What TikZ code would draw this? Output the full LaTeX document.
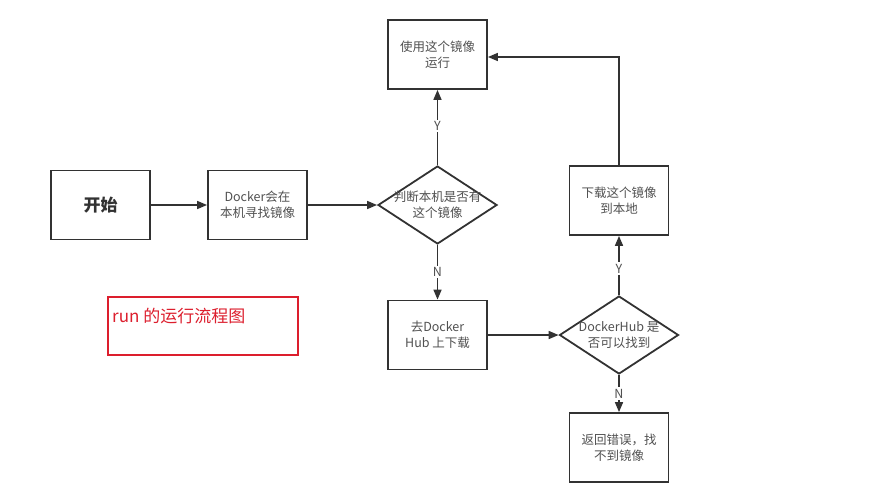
\documentclass[tikz,border=0pt]{standalone}
\usepackage{fontspec}
\setmainfont{Noto Sans CJK SC}
\usetikzlibrary{shapes.geometric,arrows.meta}
\definecolor{ln}{RGB}{50,50,50}
\definecolor{txt}{RGB}{80,80,80}
\definecolor{redc}{RGB}{220,30,45}
\tikzset{
  box/.style={draw=ln,line width=1.8pt,minimum width=99pt,minimum height=69pt,inner sep=0pt,align=center,font=\fontsize{12.5}{16}\selectfont,text=txt},
  dia/.style={draw=ln,line width=1.8pt,diamond,minimum width=119pt,minimum height=78pt,inner sep=0pt},
  diatext/.style={align=center,font=\fontsize{12.5}{16}\selectfont,text=txt,inner sep=0pt},
  conn/.style={draw=ln,line width=1.6pt,-{Triangle[length=10pt,width=8pt]}},
  lab/.style={fill=white,inner sep=1.5pt,font=\fontsize{12.5}{13}\selectfont,text=txt}
}
\begin{document}
\begin{tikzpicture}[x=1pt,y=-1pt]
\useasboundingbox (0,0) rectangle (890,501);
\node[box,font=\fontsize{17}{19}\bfseries\selectfont,text=ln] (start) at (100.5,205) {开始};
\node[box] (find) at (257.5,205) {Docker会在\\本机寻找镜像};
\node[dia] (d1) at (437.5,205) {};
\node[diatext] (d1t) at (437.5,205) {判断本机是否有\\这个镜像};
\node[box] (run) at (437.5,54.5) {使用这个镜像\\运行};
\node[box] (hub) at (437.5,335) {去Docker\\Hub 上下载};
\node[dia] (d2) at (619,335) {};
\node[diatext] (d2t) at (619,335) {DockerHub 是\\否可以找到};
\node[box] (dl) at (619,200.5) {下载这个镜像\\到本地};
\node[box] (err) at (619,447.5) {返回错误，找\\不到镜像};
\node[draw=redc,line width=1.3pt,minimum width=190pt,minimum height=58pt,inner sep=0pt] (note) at (203,326) {};
\node[anchor=west,text=redc,font=\fontsize{17}{19}\selectfont,inner sep=0pt] (notet) at (112,316) {run 的运行流程图};
\draw[conn] (start) -- (find);
\draw[conn] (find) -- (d1);
\draw[conn] (d1) -- node[lab,pos=0.52] {Y} (run);
\draw[conn] (d1) -- node[lab,pos=0.5] {N} (hub);
\draw[conn] (hub) -- (d2);
\draw[conn] (d2) -- node[lab,pos=0.45] {Y} (dl);
\draw[conn] (d2) -- node[lab,pos=0.5] {N} (err);
\draw[conn] (dl.north) |- (run.east |- 0,57);
\end{tikzpicture}
\end{document}
